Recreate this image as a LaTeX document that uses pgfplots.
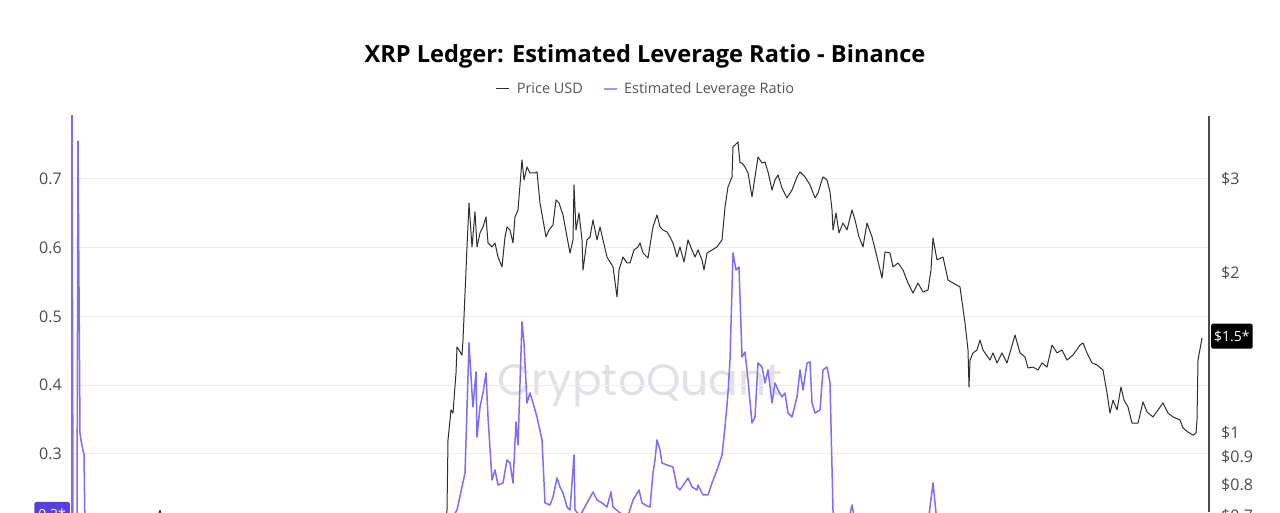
\documentclass[border=0pt]{standalone}
\usepackage{fontspec}
\setmainfont{Open Sans}
\newfontfamily\wmfont{Poppins}
\usepackage{pgfplots}
\usepackage{pgfplotstable}
\pgfplotsset{compat=1.18}
\definecolor{lev}{RGB}{125,110,245}
\definecolor{levleg}{RGB}{160,150,245}
\definecolor{levbox}{RGB}{90,62,224}
\definecolor{price}{RGB}{45,45,45}
\definecolor{tickc}{RGB}{75,75,75}
\definecolor{legc}{RGB}{85,85,85}
\definecolor{gridc}{RGB}{238,238,241}
\definecolor{wm}{RGB}{224,224,229}

% Estimated leverage ratio (x = position along time axis)
\pgfplotstableread{
x y
71 0.20
72 0.86
73 0.19
76 0.19
77 0.20
78 0.755
80 0.33
81 0.32
83 0.305
84 0.30
85 0.19
100 0.18
150 0.17
200 0.18
250 0.17
300 0.18
350 0.17
400 0.18
445 0.19
457 0.2185
465 0.2724
469 0.4615
472 0.3887
473 0.3684
476 0.4193
477 0.3247
480 0.3684
483 0.3887
486 0.4178
488 0.3538
492 0.2622
495 0.2767
498 0.2549
503 0.2578
507 0.2913
510 0.2869
513 0.2578
516 0.3465
518 0.3131
522 0.4920
524 0.4615
527 0.3742
530 0.3887
533 0.3742
537 0.3538
542 0.3204
545 0.2287
550 0.2258
553 0.2375
557 0.2651
560 0.2520
563 0.2433
567 0.2229
570 0.2185
574 0.2985
575 0.2185
580 0.21
593 0.2447
597 0.2331
602 0.2287
607 0.2229
611 0.2447
613 0.2229
620 0.2142
628 0.21
633 0.2331
639 0.2476
642 0.2287
647 0.2244
650 0.2229
653 0.2724
655 0.2913
657 0.3204
660 0.3058
662 0.2869
667 0.2840
673 0.2811
677 0.2520
680 0.2476
688 0.2651
692 0.2520
697 0.2476
698 0.2549
703 0.2404
708 0.2404
712 0.2578
717 0.2767
722 0.2985
725 0.3393
728 0.3887
730 0.4367
733 0.5924
736 0.5676
739 0.5720
742 0.4411
745 0.4484
748 0.4076
752 0.3451
755 0.3538
758 0.4324
762 0.4265
765 0.4033
768 0.4222
772 0.3742
775 0.4033
778 0.3931
782 0.3829
785 0.3887
788 0.3596
792 0.3538
797 0.3829
800 0.4222
803 0.3931
807 0.4324
810 0.4338
812 0.3742
815 0.3596
820 0.3640
823 0.4222
827 0.4265
830 0.4033
833 0.2185
835 0.19
848 0.20
852 0.2258
855 0.20
900 0.19
928 0.20
933 0.2578
937 0.20
1000 0.19
1100 0.18
1202 0.19
}\levtable

% Price USD
\pgfplotstableread{
x y
72 0.60
100 0.62
130 0.64
150 0.68
158 0.70
160 0.716
163 0.69
200 0.63
250 0.60
300 0.58
350 0.56
400 0.55
440 0.58
445 0.65
447 0.717
448 0.970
451 1.105
453 1.090
456 1.296
457 1.451
462 1.401
463 1.495
467 2.236
469 2.704
472 2.236
475 2.601
477 2.236
480 2.375
483 2.438
486 2.546
488 2.275
492 2.236
495 2.275
498 2.141
502 2.051
505 2.335
507 2.438
510 2.406
513 2.275
515 2.546
518 2.624
522 3.257
524 2.987
527 3.160
530 3.079
535 3.079
537 3.093
540 2.704
543 2.513
546 2.335
549 2.406
553 2.459
556 2.740
559 2.704
563 2.568
567 2.335
570 2.178
573 2.305
574 2.923
576 2.406
579 2.590
582 2.305
583 2.024
587 2.305
590 2.335
593 2.513
597 2.305
600 2.438
603 2.305
607 2.141
610 2.095
613 2.051
617 1.801
619 2.024
623 2.141
627 2.086
630 2.086
634 2.207
638 2.236
640 2.275
643 2.178
648 2.132
653 2.438
657 2.568
660 2.438
663 2.406
667 2.386
670 2.335
673 2.275
677 2.141
680 2.236
684 2.095
688 2.305
692 2.207
695 2.141
698 2.207
702 2.114
704 2.024
707 2.178
712 2.207
717 2.236
722 2.305
725 2.658
728 2.898
732 3.027
733 3.446
738 3.521
740 3.215
742 3.215
745 3.160
748 3.079
752 2.776
755 3.027
758 3.300
762 3.215
765 3.229
768 3.093
772 2.861
775 2.987
778 3.053
782 2.886
787 2.764
792 2.861
797 3.027
800 3.093
805 3.027
810 2.923
815 2.764
818 2.824
823 3.027
827 2.987
830 2.836
832 2.624
833 2.406
836 2.590
839 2.375
843 2.480
847 2.406
852 2.624
855 2.513
859 2.335
863 2.236
867 2.480
872 2.335
876 2.178
882 1.955
885 2.188
890 2.178
893 2.051
898 2.086
903 2.024
908 1.913
913 1.832
918 1.913
923 1.840
928 1.856
931 2.024
933 2.325
937 2.114
943 2.141
948 1.938
953 1.913
960 1.881
965 1.609
968 1.432
969 1.220
970 1.371
973 1.414
977 1.432
980 1.495
983 1.432
985 1.414
990 1.371
993 1.414
997 1.354
1002 1.414
1007 1.354
1015 1.528
1020 1.414
1025 1.389
1028 1.325
1033 1.330
1038 1.313
1042 1.354
1047 1.330
1052 1.463
1057 1.414
1062 1.432
1067 1.371
1073 1.401
1080 1.463
1083 1.476
1087 1.414
1092 1.354
1097 1.342
1103 1.313
1107 1.189
1110 1.090
1113 1.153
1117 1.105
1121 1.220
1124 1.153
1128 1.119
1132 1.044
1138 1.044
1143 1.144
1147 1.095
1153 1.072
1158 1.105
1163 1.139
1168 1.090
1173 1.072
1180 1.058
1183 1.022
1188 1.004
1193 0.991
1196 1.000
1197 1.058
1198 1.371
1202 1.508
}\pricetable

\begin{document}
\begin{tikzpicture}[x=1pt,y=1pt]
% watermark
\node[font=\wmfont\fontsize{44}{44}\selectfont, text=wm, anchor=base] at (640,117) {CryptoQuant};

% title
\node[font=\bfseries\fontsize{23.6}{24}\selectfont, text=black, anchor=base] at (645,449) {XRP Ledger: Estimated Leverage Ratio - Binance};

\begin{axis}[
  scale only axis, width=1138pt, height=396pt,
  at={(71pt,0pt)}, anchor=south west,
  xmin=71, xmax=1209, ymin=0.2156, ymax=0.7916,
  hide x axis,
  axis y line*=left, y axis line style={draw=none},
  major tick length=0pt,
  ytick={0.3,0.4,0.5,0.6,0.7},
  yticklabels={0.3,0.4,0.5,0.6,0.7},
  yticklabel style={font=\fontsize{16}{16}\selectfont, text=tickc, anchor=east, inner sep=0pt, xshift=-9pt},
  ymajorgrids, grid style={gridc, line width=1pt},
]
\addplot[lev, line width=1.5pt, line join=round] table[x=x,y=y]{\levtable};
\coordinate (levlast) at (axis cs:71,0.2127);
\end{axis}

\begin{axis}[
  scale only axis, width=1138pt, height=396pt,
  at={(71pt,0pt)}, anchor=south west,
  xmin=71, xmax=1209, ymode=log, ymin=0.7106, ymax=3.94,
  hide x axis,
  axis y line*=right, y axis line style={draw=tickc, line width=1.4pt, -},
  major tick length=0pt,
  ytick={0.8,0.9,1,2,3},
  yticklabels={\$0.8,\$0.9,\$1,\$2,\$3},
  yticklabel style={font=\fontsize{16}{16}\selectfont, text=tickc, anchor=west, inner sep=0pt, xshift=12pt},
  legend style={draw=none, fill=none, at={(axis description cs:0.5044,1.0682)}, anchor=center,
    font=\fontsize{14.5}{16}\selectfont, text=legc, inner sep=0pt,
    nodes={inner sep=0pt},
    /tikz/every odd column/.append style={column sep=7pt},
    /tikz/every even column/.append style={column sep=20pt}},
  legend columns=2,
  legend image code/.code={\draw[#1] (0pt,0pt) -- (13pt,0pt);},
]
\addplot[price, line width=1pt, line join=round] table[x=x,y=y]{\pricetable};
\addlegendentry{Price USD}
\addlegendimage{levleg, line width=1.1pt}
\addlegendentry{Estimated Leverage Ratio}
\coordinate (pricelast) at (axis cs:1209,1.52);
\coordinate (p07) at (axis cs:1209,0.7);
\end{axis}

% $0.7 tick label lies just below the visible window, as in the reference
\node[font=\fontsize{16}{16}\selectfont, text=tickc, anchor=west, inner sep=0pt] at ([xshift=12pt]p07) {\$0.7};

\node[fill=black, text=white, anchor=west, inner xsep=3pt, inner ysep=0pt, minimum height=25pt, rounded corners=1.5pt, font=\fontsize{14}{14}\selectfont] at ([xshift=2pt]pricelast) {\$1.5*};
\node[fill=levbox, text=white, anchor=east, inner xsep=4pt, inner ysep=0pt, minimum height=24pt, rounded corners=1.5pt, font=\fontsize{14}{14}\selectfont] at ([xshift=-1pt]levlast) {0.2*};

\pgfresetboundingbox
\useasboundingbox (0,0) rectangle (1280,512);
\end{tikzpicture}
\end{document}
